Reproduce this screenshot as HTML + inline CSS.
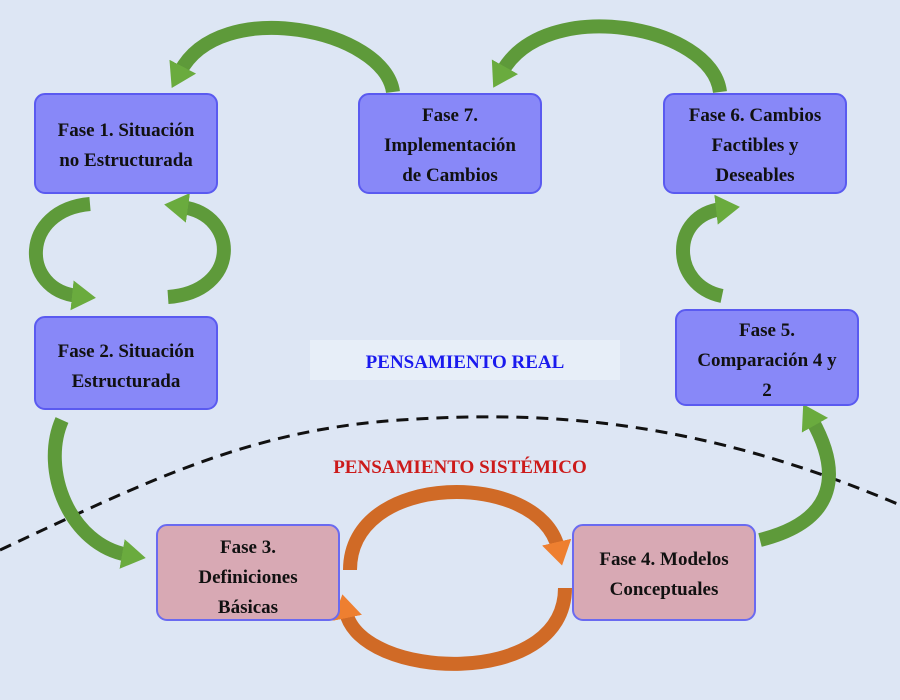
<!DOCTYPE html>
<html><head><meta charset="utf-8"><style>
body{margin:0;background:#dde6f4;}
svg{display:block}
text{font-family:"Liberation Serif",serif;font-weight:bold;}
</style></head><body>
<svg width="900" height="700" viewBox="0 0 900 700" xmlns="http://www.w3.org/2000/svg">
<defs>
<marker id="g" markerUnits="userSpaceOnUse" markerWidth="40" markerHeight="40" refX="6" refY="15" orient="auto"><path d="M0,0 L24,15 L0,30 Z" fill="#6aab3e"/></marker>
<marker id="o" markerUnits="userSpaceOnUse" markerWidth="40" markerHeight="40" refX="6" refY="15" orient="auto"><path d="M0,0 L24,15 L0,30 Z" fill="#ee7f30"/></marker>
</defs>
<rect width="900" height="700" fill="#dde6f4"/>
<!-- dashed curve -->
<path d="M0,550 C150,480 250,430 400,420 C550,410 700,420 900,505" fill="none" stroke="#111" stroke-width="3" stroke-dasharray="12,8"/>
<!-- green arrows -->
<g fill="none" stroke="#5e9a3a" stroke-width="14">
<path d="M393,92 C385,30 220,-5 180,72" marker-end="url(#g)"/>
<path d="M720,92 C712,25 545,-5 502,72" marker-end="url(#g)"/>
<path d="M90,204 C20,210 20,290 78,296" marker-end="url(#g)"/>
<path d="M168,297 C240,292 240,215 182,207" marker-end="url(#g)"/>
<path d="M62,420 C40,470 70,545 128,555" marker-end="url(#g)"/>
<path d="M722,296 C670,285 670,215 722,209" marker-end="url(#g)"/>
<path d="M760,540 C840,520 840,470 812,420" marker-end="url(#g)"/>
</g>
<!-- orange -->
<g fill="none" stroke="#d06a26" stroke-width="14">
<path d="M350,570 C350,470 540,470 558,548" marker-end="url(#o)"/>
<path d="M565,588 C565,690 360,680 346,612" marker-end="url(#o)"/>
</g>
<!-- boxes -->
<g stroke="#5a5af0" stroke-width="2" fill="#8888f8">
<rect x="35" y="94" width="182" height="99" rx="10"/>
<rect x="359" y="94" width="182" height="99" rx="10"/>
<rect x="664" y="94" width="182" height="99" rx="10"/>
<rect x="35" y="317" width="182" height="92" rx="10"/>
<rect x="676" y="310" width="182" height="95" rx="10"/>
</g>
<g stroke="#6a6af0" stroke-width="2" fill="#d8a9b4">
<rect x="157" y="525" width="182" height="95" rx="10"/>
<rect x="573" y="525" width="182" height="95" rx="10"/>
</g>
<rect x="310" y="340" width="310" height="40" fill="#e7eef8"/>
<g font-size="19" fill="#111" text-anchor="middle">
<text x="126" y="136">Fase 1. Situación</text>
<text x="126" y="166">no Estructurada</text>
<text x="450" y="121">Fase 7.</text>
<text x="450" y="151">Implementación</text>
<text x="450" y="181">de Cambios</text>
<text x="755" y="121">Fase 6. Cambios</text>
<text x="755" y="151">Factibles y</text>
<text x="755" y="181">Deseables</text>
<text x="126" y="357">Fase 2. Situación</text>
<text x="126" y="387">Estructurada</text>
<text x="767" y="336">Fase 5.</text>
<text x="767" y="366">Comparación 4 y</text>
<text x="767" y="396">2</text>
<text x="248" y="553">Fase 3.</text>
<text x="248" y="583">Definiciones</text>
<text x="248" y="613">Básicas</text>
<text x="664" y="565">Fase 4. Modelos</text>
<text x="664" y="595">Conceptuales</text>
</g>
<text x="465" y="368" font-size="19" fill="#1a1aee" text-anchor="middle">PENSAMIENTO REAL</text>
<text x="460" y="473" font-size="19" fill="#cc1a1a" text-anchor="middle">PENSAMIENTO SISTÉMICO</text>
</svg>
</body></html>
